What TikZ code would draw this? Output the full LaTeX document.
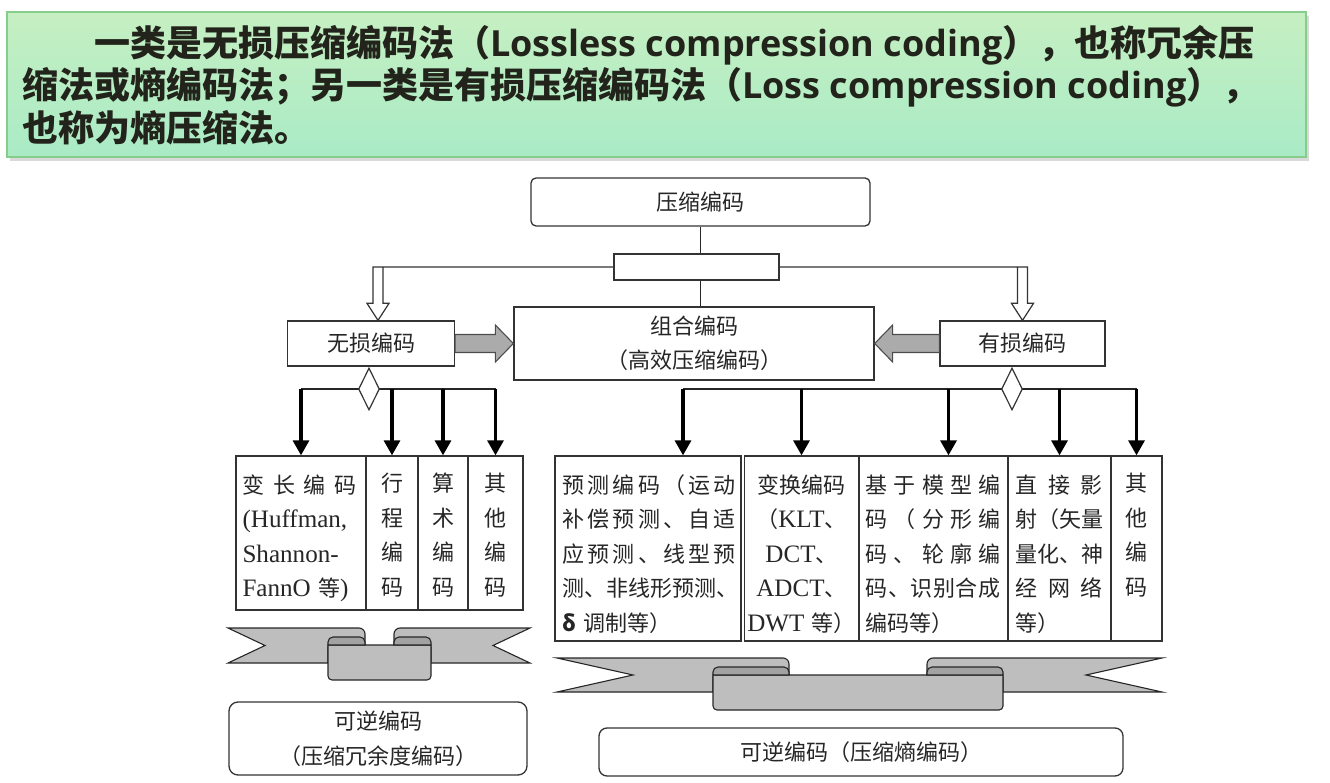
\documentclass[tikz,border=0pt]{standalone}
\usepackage{fontspec}
\setmainfont{Noto Sans CJK SC}
\newfontfamily\hdlat{Open Sans}
\newfontfamily\tms{Liberation Serif}[Scale=1.14]
\usetikzlibrary{shapes.geometric,arrows.meta,calc}

\definecolor{hdtop}{HTML}{C6EFC2}
\definecolor{hdbot}{HTML}{A9EBC6}
\definecolor{hdedge}{HTML}{86CC8A}
\definecolor{hdink}{HTML}{22231A}
\definecolor{ribgray}{HTML}{BEBEBE}
\definecolor{ribdark}{HTML}{A2A2A2}
\definecolor{blockgray}{HTML}{ABABAB}

% spread a line of characters over the full text width
\newcommand\jus[1]{\makebox[\hsize][s]{\spaceskip=0pt plus 1fil\relax #1}}

% ribbon: left, right, tail top, tail bottom, panel top, panel bottom, panel left, panel right, fold
\newcommand\ribbon[9]{%
  \draw[rib] (#1,#3) [rounded corners=6pt] -- (#7+#9,#3) [sharp corners] -- (#7+#9,#5+2) -- (#7,#5+2) -- (#7,#4) -- (#1,#4) -- (#1+#9,{(#3+#4)/2}) -- cycle;
  \draw[rib] (#2,#3) [rounded corners=6pt] -- (#8-#9,#3) [sharp corners] -- (#8-#9,#5+2) -- (#8,#5+2) -- (#8,#4) -- (#2,#4) -- (#2-#9,{(#3+#4)/2}) -- cycle;
  \draw[rib] (#7,#5) [rounded corners=4pt] -- (#7,#6) -- (#8,#6) [sharp corners] -- (#8,#5) -- cycle;
  \draw[rib,fill=ribdark] (#7,#5) [rounded corners=5pt] -- (#7,#3+9) -- (#7+#9,#3+9) [sharp corners] -- (#7+#9,#5) -- cycle;
  \draw[rib,fill=ribdark] (#8,#5) [rounded corners=5pt] -- (#8,#3+9) -- (#8-#9,#3+9) [sharp corners] -- (#8-#9,#5) -- cycle;
}

\begin{document}
\begin{tikzpicture}[x=1pt,y=-1pt,
  every node/.style={font=\fontsize{22}{34.5}\selectfont,text=black!85},
  box/.style={draw=black!80,line width=1.3pt,fill=white,inner sep=0pt},
  cell/.style={draw=black!80,line width=1.3pt,inner sep=0pt,minimum height=154pt},
  txt/.style={inner sep=0pt,align=left,execute at begin node={\rule{0pt}{20pt}}},
  link/.style={draw=black!85,line width=1.6pt},
  dn/.style={line width=3.2pt,-{Triangle[length=15pt,width=16pt]}},
  hollow/.style={draw=black!80,line width=1.2pt,fill=white},
  block/.style={draw=black!70,line width=1.1pt,fill=blockgray},
  gate/.style={diamond,draw=black!80,line width=1.2pt,fill=white,minimum width=21pt,minimum height=42pt,inner sep=0pt},
  rib/.style={draw=black!85,line width=1.1pt,fill=ribgray}]
  \useasboundingbox (0,0) rectangle (1330,783);

  % heading
  \fill[black!15] (10,16) rectangle (1309,161);
  \node[draw=hdedge,line width=1.5pt,top color=hdtop,bottom color=hdbot,minimum width=1299pt,minimum height=145pt,inner sep=0pt] (hdr) at (656.5,84.5) {};
  \node[anchor=west,align=left,inner sep=0pt,text=hdink,font=\bfseries\fontsize{36}{42.5}\selectfont] (hdtxt) at (22,85)
    {\hspace*{72pt}一类是无损压缩编码法（{\hdlat Lossless compression coding}），也称冗余压\\
     缩法或熵编码法；另一类是有损压缩编码法（{\hdlat Loss compression coding}），\\
     也称为熵压缩法。};

  % upper tree
  \node[box,rounded corners=5pt,minimum width=339pt,minimum height=48pt] (top) at (700.5,202) {压缩编码};
  \node[box,minimum width=165pt,minimum height=26pt] (hub) at (696.5,267) {};
  \node[box,minimum width=360pt,minimum height=73pt,align=center] (combo) at (694,343.5) {组合编码\\（高效压缩编码）};
  \node[box,minimum width=167pt,minimum height=45pt] (lossless) at (371,343.5) {无损编码};
  \node[box,minimum width=165pt,minimum height=45pt] (lossy) at (1022.5,343.5) {有损编码};

  \draw[link] (top.south) -- (top.south |- hub.north);
  \draw[link] (top.south |- hub.south) -- (top.south |- combo.north);

  \coordinate (lin) at ($(lossless.north)+(7,0)$);
  \draw[hollow] (hub.west) -- ($(hub.west -| lin)+(-5,0)$) -- ($(lin)+(-5,-17)$) -- ($(lin)+(-11,-17)$) -- (lin)
    -- ($(lin)+(11,-17)$) -- ($(lin)+(5,-17)$) -- ($(hub.west -| lin)+(5,0)$);
  \draw[hollow] (hub.east) -- ($(hub.east -| lossy.north)+(5,0)$) -- ($(lossy.north)+(5,-17)$) -- ($(lossy.north)+(11,-17)$) -- (lossy.north)
    -- ($(lossy.north)+(-11,-17)$) -- ($(lossy.north)+(-5,-17)$) -- ($(hub.east -| lossy.north)+(-5,0)$);

  \draw[block] ($(lossless.east)+(0,-9)$) -- ($(combo.west)+(-18,-9)$) -- ($(combo.west)+(-18,-18.5)$) -- (combo.west)
    -- ($(combo.west)+(-18,18.5)$) -- ($(combo.west)+(-18,9)$) -- ($(lossless.east)+(0,9)$) -- cycle;
  \draw[block] ($(lossy.west)+(0,-9)$) -- ($(combo.east)+(18,-9)$) -- ($(combo.east)+(18,-18.5)$) -- (combo.east)
    -- ($(combo.east)+(18,18.5)$) -- ($(combo.east)+(18,9)$) -- ($(lossy.west)+(0,9)$) -- cycle;

  % lossless cells
  \node[cell,minimum width=130pt] (vl) at (301,533) {};
  \node[cell,minimum width=52pt] (rl) at (392,533) {};
  \node[cell,minimum width=50pt] (al) at (443,533) {};
  \node[cell,minimum width=55pt] (ol) at (495.5,533) {};
  \node[txt,anchor=north west,text width=114pt] (vlt) at ($(vl.north west)+(7,17.5)$)
    {\jus{变 长 编 码}\\{\tms (Huffman,}\\{\tms Shannon-}\\{\tms FannO }等{\tms )}};
  \node[txt,anchor=north,align=center] (rlt) at ($(rl.north)+(0,17.5)$) {行\\程\\编\\码};
  \node[txt,anchor=north,align=center] (alt) at ($(al.north)+(0,17.5)$) {算\\术\\编\\码};
  \node[txt,anchor=north,align=center] (olt) at ($(ol.north)+(0,17.5)$) {其\\他\\编\\码};

  % lossy cells
  \node[cell,minimum width=186pt,minimum height=185pt] (pc) at (648,548.5) {};
  \node[cell,minimum width=114pt,minimum height=185pt] (tr) at (801.5,548.5) {};
  \node[cell,minimum width=149pt,minimum height=185pt] (mb) at (933.5,548.5) {};
  \node[cell,minimum width=103pt,minimum height=185pt] (zj) at (1059.5,548.5) {};
  \node[cell,minimum width=51pt,minimum height=185pt] (qt) at (1136.5,548.5) {};
  \node[txt,anchor=north west,text width=173pt] (pct) at ($(pc.north west)+(8,17.5)$)
    {\jus{预 测 编 码 （ 运 动}\\\jus{补 偿 预 测 、 自 适}\\\jus{应 预 测 、 线 型 预}\\\jus{测 、 非 线 形 预 测 、}\\{\bfseries δ} 调制等）};
  \node[txt,anchor=north,align=center,text width=112pt] (trt) at ($(tr.north)+(0,17.5)$)
    {变换编码\\（{\tms KLT}、\\{\tms DCT}、\\{\tms ADCT}、\\{\tms DWT }等）};
  \node[txt,anchor=north west,text width=135pt] (mbt) at ($(mb.north west)+(7,17.5)$)
    {\jus{基 于 模 型 编}\\\jus{码 （ 分 形 编}\\\jus{码 、 轮 廓 编}\\\jus{码 、 识 别 合 成}\\编码等）};
  \node[txt,anchor=north west,text width=87pt] (zjt) at ($(zj.north west)+(8,17.5)$)
    {\jus{直 接 影}\\\jus{射 （ 矢 量}\\\jus{量 化 、 神}\\\jus{经 网 络}\\等）};
  \node[txt,anchor=north,align=center] (qtt) at ($(qt.north)+(0,17.5)$) {其\\他\\编\\码};

  % branches
  \coordinate (lj) at (369,389);
  \draw[link] (vl.north |- lj) -- (ol.north |- lj);
  \foreach \c in {vl,rl,al,ol}
    \draw[dn] (\c.north |- lj) -- (\c.north);
  \node[gate] (dl) at (lj) {};

  \coordinate (rj) at (1012,389);
  \coordinate (pcin) at ($(pc.north)+(35,0)$);
  \coordinate (mbin) at ($(mb.north)+(15,0)$);
  \draw[link] (pcin |- rj) -- (qt.north |- rj);
  \draw[dn] (pcin |- rj) -- (pcin);
  \draw[dn] (mbin |- rj) -- (mbin);
  \foreach \c in {tr,zj,qt}
    \draw[dn] (\c.north |- rj) -- (\c.north);
  \node[gate] (dr) at (rj) {};

  % ribbons
  \ribbon{228}{530}{628}{663}{645}{680}{328}{431}{37}
  \ribbon{557}{1162}{658}{692}{675}{710}{713}{1003}{76}

  % reversible coding
  \node[box,rounded corners=9pt,minimum width=298pt,minimum height=73pt,align=center] (revl) at (378,738.5) {可逆编码\\（压缩冗余度编码）};
  \node[box,rounded corners=8pt,minimum width=524pt,minimum height=48pt] (revr) at (861,752) {可逆编码（压缩熵编码）};
\end{tikzpicture}
\end{document}
